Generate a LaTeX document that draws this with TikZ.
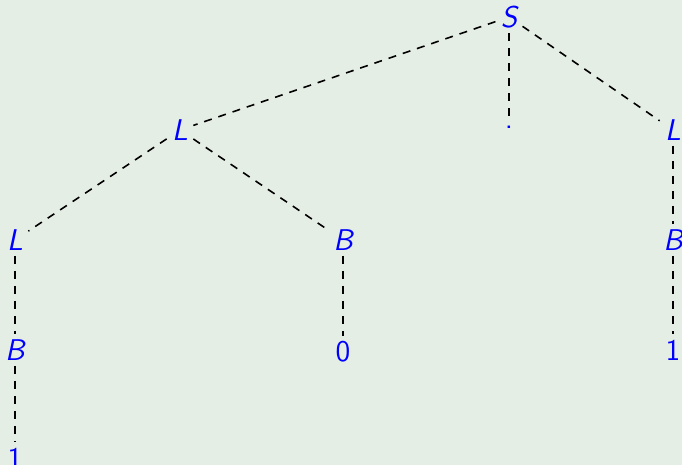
\documentclass[tikz,border=0pt]{standalone}
\definecolor{bgc}{RGB}{229,238,229}
\definecolor{nodeblue}{RGB}{0,0,255}
\begin{document}
\begin{tikzpicture}[x=0.5pt,y=-0.5pt,
  tn/.style={text=nodeblue,font=\fontsize{15}{18}\selectfont\sffamily\itshape,inner sep=2.5pt},
  tnum/.style={text=nodeblue,font=\fontsize{15}{18}\selectfont\sffamily,inner sep=2.5pt},
  edge/.style={draw=black,line width=0.8pt,dash pattern=on 4pt off 3.5pt}]
\fill[bgc] (0,0) rectangle (682,465);
\useasboundingbox (0,0) rectangle (682,465);
\node[tn] (S) at (509,17) {S};
\node[tnum,inner sep=1pt] (dot) at (509,127) {.};
\node[tn] (Lr) at (673,130) {L};
\node[tn] (L1) at (180,130) {L};
\node[tn] (L2) at (15,240) {L};
\node[tn] (Bm) at (343,240) {B};
\node[tn] (Br) at (673,240) {B};
\node[tn] (Bl) at (15,350) {B};
\node[tnum] (n0) at (343,352) {0};
\node[tnum] (n1r) at (673,350) {1};
\node[tnum] (n1l) at (15,458) {1};
\draw[edge] (S) -- (L1);
\draw[edge] (S) -- (dot);
\draw[edge] (S) -- (Lr);
\draw[edge] (L1) -- (L2);
\draw[edge] (L1) -- (Bm);
\draw[edge] (L2) -- (Bl);
\draw[edge] (Bl) -- (n1l);
\draw[edge] (Bm) -- (n0);
\draw[edge] (Lr) -- (Br);
\draw[edge] (Br) -- (n1r);
\end{tikzpicture}
\end{document}
